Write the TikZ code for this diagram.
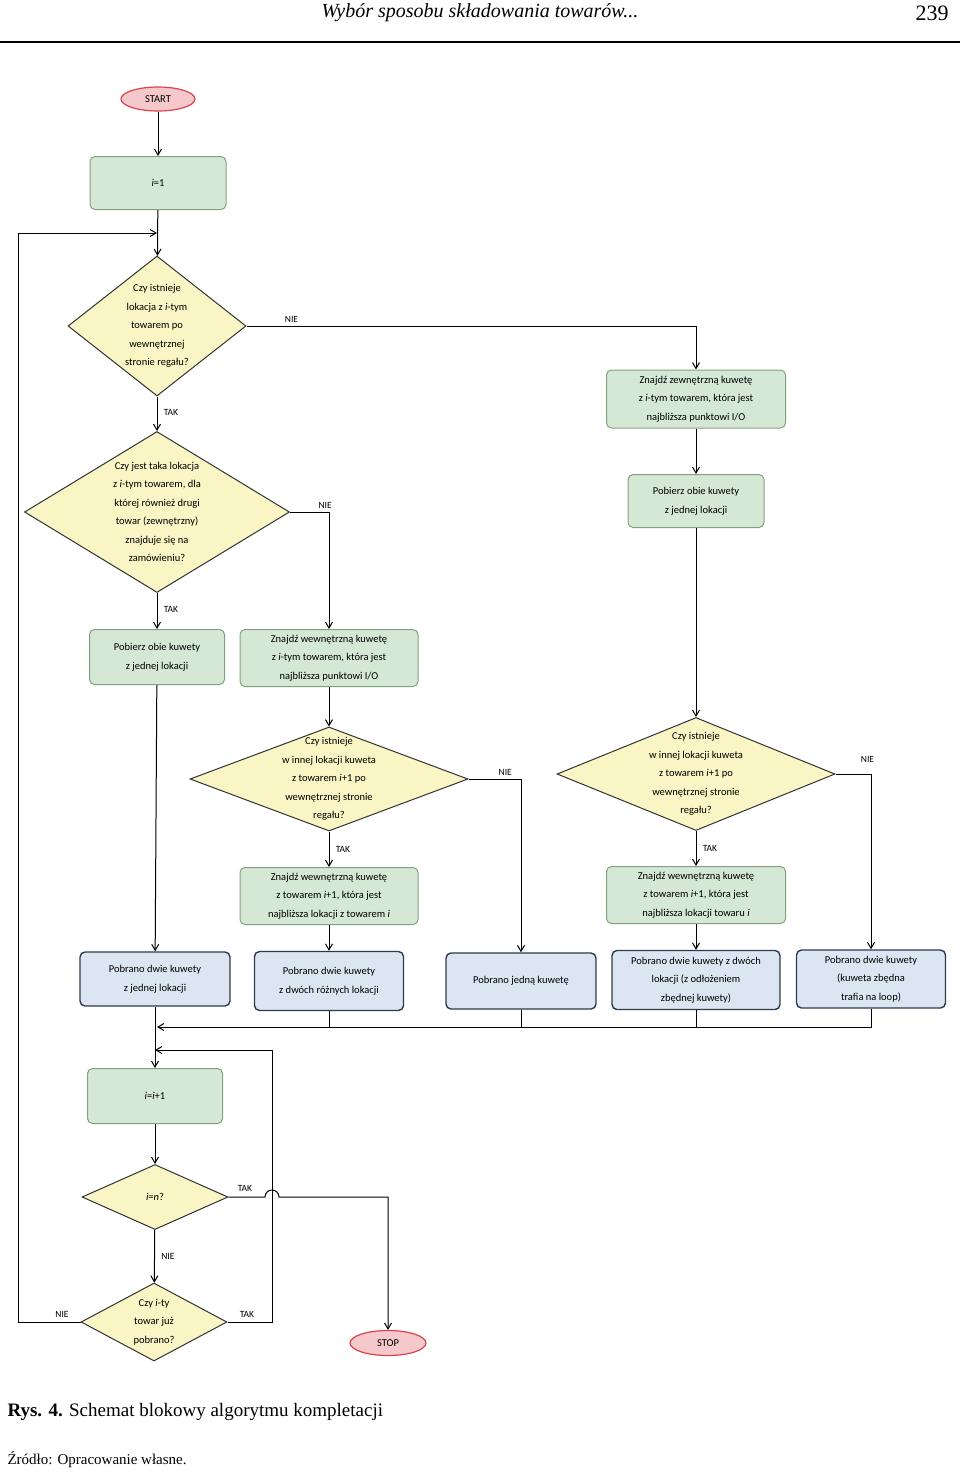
\documentclass[tikz,border=0pt]{standalone}
\usepackage{fontspec}
\setmainfont{Liberation Serif}
\newfontfamily\flowfont{Carlito}
\usetikzlibrary{arrows.meta,shapes.geometric}
\definecolor{boxgreen}{HTML}{D5E8D6}
\definecolor{linegreen}{HTML}{7FA37C}
\definecolor{diayellow}{HTML}{F9F5C5}
\definecolor{boxblue}{HTML}{DCE6F2}
\definecolor{lineblue}{HTML}{2E3B4E}
\definecolor{termred}{HTML}{F5C8CB}
\definecolor{linered}{HTML}{D9434E}
\tikzstyle{process}=[
	rectangle,
	rounded corners=5pt,
	draw=linegreen,
	line width=1pt,
	fill=boxgreen,
	align=center,
	font=\flowfont\fontsize{10.5}{18.5}\selectfont
]
\tikzstyle{result}=[
	process,
	draw=lineblue,
	line width=1.4pt,
	fill=boxblue
]
\tikzstyle{decision}=[
	diamond,
	draw=black!80,
	line width=1pt,
	fill=diayellow,
	inner sep=0pt
]
\tikzstyle{terminal}=[
	ellipse,
	draw=linered,
	line width=1.2pt,
	fill=termred,
	font=\flowfont\fontsize{10.5}{12}\selectfont
]
\tikzstyle{flow}=[
	-{Straight Barb[length=6pt,width=7pt]},
	line width=1pt
]
\tikzstyle{answer}=[
	font=\flowfont\fontsize{9.5}{11}\selectfont
]
\tikzstyle{dtext}=[
	align=center,
	font=\flowfont\fontsize{10.5}{18.5}\selectfont
]

\begin{document}
\begin{tikzpicture}[x=1pt,y=-1pt]
\useasboundingbox (0,0) rectangle (960,1476);
% header
\node (title) at (480,13) {\fontsize{20}{24}\selectfont\itshape Wybór sposobu składowania towarów...};
\node (page) at (932,13) {\fontsize{22}{24}\selectfont 239};
\draw[line width=2pt] (0,42) -- (960,42);

% left column
\node [terminal, minimum width=74pt, minimum height=24pt] (start) at (158,99) {START};
\node [process, minimum width=136pt, minimum height=53pt] (init) at (158,183) {\textit{i}=1};
\node [decision, minimum width=178pt, minimum height=140pt,
	label={[dtext]center:Czy istnieje\\lokacja z \textit{i}-tym\\towarem po\\wewnętrznej\\stronie regału?}] (inner) at (157,326) {};
\node [decision, minimum width=265pt, minimum height=161pt,
	label={[dtext]center:Czy jest taka lokacja\\z \textit{i}-tym towarem, dla\\której również drugi\\towar (zewnętrzny)\\znajduje się na\\zamówieniu?}] (pair) at (157,512) {};
\node [process, minimum width=135pt, minimum height=55pt] (takeboth) at (157,657) {Pobierz obie kuwety\\z jednej lokacji};
\node [process, minimum width=178pt, minimum height=57pt] (findin) at (329,658) {Znajdź wewnętrzną kuwetę\\z \textit{i}-tym towarem, która jest\\najbliższa punktowi I/O};

% right column
\node [process, minimum width=179pt, minimum height=58pt] (findout) at (696,399) {Znajdź zewnętrzną kuwetę\\z \textit{i}-tym towarem, która jest\\najbliższa punktowi I/O};
\node [process, minimum width=136pt, minimum height=53pt] (takeboth2) at (696,501) {Pobierz obie kuwety\\z jednej lokacji};

% middle decisions
\node [decision, minimum width=278pt, minimum height=104pt,
	label={[dtext]center:Czy istnieje\\w innej lokacji kuweta\\z towarem \textit{i}+1 po\\wewnętrznej stronie\\regału?}] (nextA) at (329,779) {};
\node [decision, minimum width=278pt, minimum height=113pt,
	label={[dtext]center:Czy istnieje\\w innej lokacji kuweta\\z towarem \textit{i}+1 po\\wewnętrznej stronie\\regału?}] (nextB) at (696,774) {};
\node [process, minimum width=178pt, minimum height=57pt] (findA) at (329,896) {Znajdź wewnętrzną kuwetę\\z towarem \textit{i}+1, która jest\\najbliższa lokacji z towarem \textit{i}};
\node [process, minimum width=179pt, minimum height=57pt] (findB) at (696,895) {Znajdź wewnętrzną kuwetę\\z towarem \textit{i}+1, która jest\\najbliższa lokacji towaru \textit{i}};

% results
\node [result, minimum width=150pt, minimum height=54pt] (res1) at (155,979) {Pobrano dwie kuwety\\z jednej lokacji};
\node [result, minimum width=149pt, minimum height=59pt] (res2) at (329,981) {Pobrano dwie kuwety\\z dwóch różnych lokacji};
\node [result, minimum width=150pt, minimum height=56pt] (res3) at (521,981) {Pobrano jedną kuwetę};
\node [result, minimum width=168pt, minimum height=59pt] (res4) at (696,980) {Pobrano dwie kuwety z dwóch\\lokacji (z odłożeniem\\zbędnej kuwety)};
\node [result, minimum width=149pt, minimum height=58pt] (res5) at (871,979) {Pobrano dwie kuwety\\(kuweta zbędna\\trafia na loop)};

% loop part
\node [process, minimum width=135pt, minimum height=55pt] (incr) at (155,1096) {\textit{i}=\textit{i}+1};
\node [decision, minimum width=146pt, minimum height=65pt,
	label={[dtext]center:\textit{i}=\textit{n}?}] (last) at (155,1197) {};
\node [decision, minimum width=146pt, minimum height=78pt,
	label={[dtext]center:Czy \textit{i}-ty\\towar już\\pobrano?}] (done) at (154,1322) {};
\node [terminal, minimum width=76pt, minimum height=25pt] (stop) at (388,1343) {STOP};

% junctions
\coordinate (loopin) at (157,233);
\coordinate (loopcorner) at (18,233);
\coordinate (gather) at (157,1027);
\coordinate (back) at (155,1050);
\coordinate (backcorner) at (272,1050);
\coordinate (hopA) at (265,1197);
\coordinate (hopB) at (279,1197);

% connectors
\draw[flow] (start) -- (init);
\draw[flow] (init) -- (inner);
\draw[flow] (inner) -- (pair) node[answer, pos=0.45, right=3pt] {TAK};
\draw[flow] (inner.east) -| (findout.north) node[answer, pos=0.05, above] {NIE};
\draw[flow] (findout) -- (takeboth2);
\draw[flow] (takeboth2) -- (nextB);
\draw[flow] (pair) -- (takeboth) node[answer, pos=0.45, right=3pt] {TAK};
\draw[flow] (pair.east) -| (findin.north) node[answer, pos=0.45, above] {NIE};
\draw[flow] (findin) -- (nextA);
\draw[flow] (nextA) -- (findA) node[answer, midway, right=3pt] {TAK};
\draw[flow] (nextA.east) -| (res3.north) node[answer, pos=0.35, above] {NIE};
\draw[flow] (nextB) -- (findB) node[answer, midway, right=3pt] {TAK};
\draw[flow] (nextB.east) -| (res5.north) node[answer, pos=0.45, above=8pt] {NIE};
\draw[flow] (findA) -- (res2);
\draw[flow] (findB) -- (res4);
\draw[flow] (takeboth) -- (res1);
\draw[flow] (res5.south) |- (gather);
\draw[line width=1pt] (res2.south) -- (res2.south |- gather);
\draw[line width=1pt] (res3.south) -- (res3.south |- gather);
\draw[line width=0.6pt] (res4.south) -- (res4.south |- gather);
\draw[flow] (res1) -- (incr);
\draw[flow] (incr) -- (last);
\draw[flow] (last) -- (done) node[answer, midway, right=3pt] {NIE};
\draw[flow] (last.east) -- (hopA) arc (180:360:7) -- (hopB) -| (stop.north);
\node[answer] (tak1) at (245,1188) {TAK};
\draw[flow] (done.east) -| (backcorner) -- (back);
\node[answer] (tak2) at (247,1314) {TAK};
\draw[flow] (done.west) -| (loopcorner) -- (loopin);
\node[answer] (nie1) at (62,1314) {NIE};

% caption
\node[anchor=west] (caption) at (4,1412) {\fontsize{19}{22}\selectfont\textbf{Rys. 4.} Schemat blokowy algorytmu kompletacji};
\node[anchor=west] (source) at (4,1460) {\fontsize{15}{18}\selectfont Źródło: Opracowanie własne.};
\end{tikzpicture}
\end{document}
